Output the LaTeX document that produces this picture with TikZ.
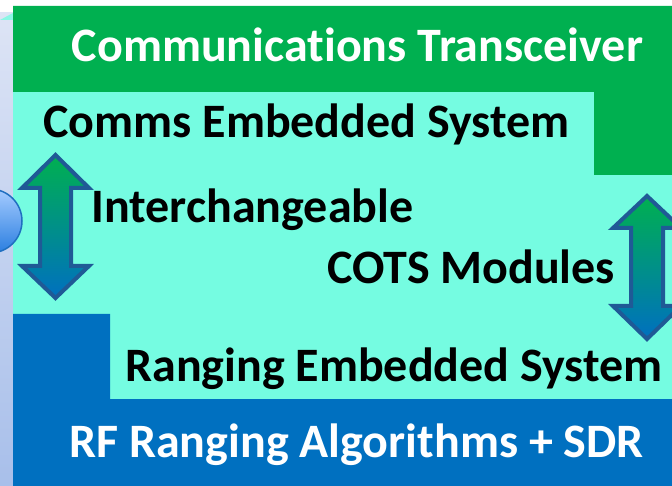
\documentclass[tikz,border=0pt]{standalone}
\usepackage{fontspec}
\setmainfont{Carlito}[Ligatures=NoCommon]
\definecolor{bandgreen}{HTML}{00B050}
\definecolor{bandcyan}{HTML}{75FCE1}
\definecolor{bandblue}{HTML}{0070C0}
\definecolor{stripTop}{HTML}{DDE4F5}
\definecolor{stripBot}{HTML}{A8BFEA}
\definecolor{arrowedge}{HTML}{1F5A96}
\definecolor{ballTop}{HTML}{A6CCFF}
\definecolor{ballBot}{HTML}{2A7EE0}
\definecolor{balledge}{HTML}{1F6FC0}
\tikzset{
  whitelabel/.style={text=white, font=\fontsize{48}{52}\selectfont\bfseries, anchor=base, inner sep=0pt},
  blacklabel/.style={text=black, font=\fontsize{48}{52}\selectfont\bfseries, anchor=base, inner sep=0pt},
  dblarrow/.style={draw=arrowedge, line width=4pt, line join=miter, top color=bandgreen, bottom color=bandblue},
}
\begin{document}
\begin{tikzpicture}[x=1pt,y=-1pt]
\useasboundingbox (0,0) rectangle (672,486);
\clip (0,0) rectangle (672,486);
\fill[white] (0,0) rectangle (672,486);
% left strip
\shade[top color=stripTop, bottom color=stripBot] (0,13) rectangle (13,486);
\fill[bandcyan!80!stripTop] (0,20) -- (13,13) -- (13,20) -- cycle;
% cyan body
\fill[bandcyan] (13,91) rectangle (672,399);
% green band
\fill[bandgreen] (13,6) rectangle (672,92) (594,91) rectangle (672,175);
% blue band
\fill[bandblue] (13,399) rectangle (672,486) (13,314) rectangle (110,400);
% ball
\shade[top color=ballTop, bottom color=ballBot, draw=balledge, line width=1.5pt] (-10,221) circle (32);
% arrows
\path[dblarrow] (55.5,155) -- (89,188) -- (71,188) -- (71,266) -- (89,266) -- (55.5,298) -- (22,266) -- (40,266) -- (40,188) -- (22,188) -- cycle;
\path[dblarrow] (647,196) -- (681,228) -- (663,228) -- (663,306) -- (681,306) -- (647,339) -- (613,306) -- (631,306) -- (631,228) -- (613,228) -- cycle;
% labels
\node[whitelabel] (ct) at (357.5,62) {Communications Transceiver};
\node[blacklabel] (ces) at (306.5,138) {Comms Embedded System};
\node[blacklabel] (ic) at (252.5,223) {Interchangeable};
\node[blacklabel] (cots) at (471,284) {COTS Modules};
\node[blacklabel] (res) at (394,381) {Ranging Embedded System};
\node[whitelabel] (rf) at (356.5,457) {RF Ranging Algorithms + SDR};
\end{tikzpicture}
\end{document}
